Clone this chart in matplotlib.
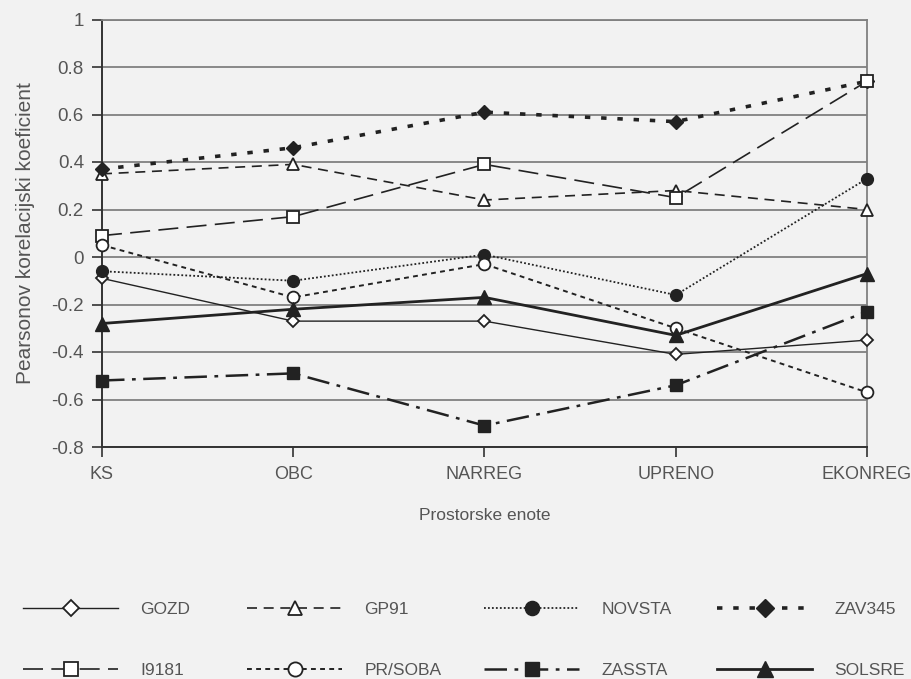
import matplotlib
matplotlib.use("Agg")
import matplotlib.pyplot as plt

categories = ["KS", "OBC", "NARREG", "UPRENO", "EKONREG"]
gozd    = [-0.09, -0.27, -0.27, -0.41, -0.35]
gp91    = [0.35, 0.39, 0.24, 0.28, 0.20]
novsta  = [-0.06, -0.10, 0.01, -0.16, 0.33]
zav345  = [0.37, 0.46, 0.61, 0.57, 0.74]
i9181   = [0.09, 0.17, 0.39, 0.25, 0.74]
prsoba  = [0.05, -0.17, -0.03, -0.30, -0.57]
zassta  = [-0.52, -0.49, -0.71, -0.54, -0.23]
solsre  = [-0.28, -0.22, -0.17, -0.33, -0.07]
yticks = [-0.8, -0.6, -0.4, -0.2, 0, 0.2, 0.4, 0.6, 0.8, 1]
ytick_labels = ["-0.8", "-0.6", "-0.4", "-0.2", "0", "0.2", "0.4", "0.6", "0.8", "1"]

plt.rcParams['font.family'] = ['Liberation Sans', 'DejaVu Sans']
bg = '#f2f2f2'
ink = '#222222'
txt = '#555555'

W, H = 912, 679
fig = plt.figure(figsize=(W / 100, H / 100), dpi=100, facecolor=bg)
ax = fig.add_axes([102 / W, 1 - 447 / H, (867 - 102) / W, (447 - 19.5) / H])
ax.set_facecolor(bg)
x = list(range(len(categories)))

series = [
    ("GOZD",    gozd,   dict(ls='-', lw=1.0, marker='D', ms=6.5, mfc='white', mec=ink, mew=1.3)),
    ("GP91",    gp91,   dict(ls=(0, (6, 4)), lw=1.2, marker='^', ms=8.5, mfc='white', mec=ink, mew=1.3)),
    ("NOVSTA",  novsta, dict(ls=(0, (1, 1.2)), lw=1.3, marker='o', ms=8.5, mfc=ink, mec=ink)),
    ("ZAV345",  zav345, dict(ls=(0, (1.5, 3.0)), lw=2.6, marker='D', ms=7.5, mfc=ink, mec=ink)),
    ("I9181",   i9181,  dict(ls=(0, (12, 5)), lw=1.2, marker='s', ms=8.5, mfc='white', mec=ink, mew=1.3)),
    ("PR/SOBA", prsoba, dict(ls=(0, (2.5, 2.2)), lw=1.4, marker='o', ms=8.5, mfc='white', mec=ink, mew=1.3)),
    ("ZASSTA",  zassta, dict(ls=(0, (9, 3, 1.5, 3)), lw=1.8, marker='s', ms=8.5, mfc=ink, mec=ink)),
    ("SOLSRE",  solsre, dict(ls='-', lw=2.0, marker='^', ms=9.5, mfc=ink, mec=ink)),
]
handles = []
for name, vals, kw in series:
    h, = ax.plot(x, vals, color=ink, label=name, clip_on=False, zorder=3, **kw)
    handles.append(h)

ax.set_xlim(0, len(categories) - 1)
ax.set_ylim(-0.8, 1.0)
ax.set_yticks(yticks)
ax.set_yticklabels(ytick_labels)
ax.set_xticks(x)
ax.set_xticklabels(categories)
ax.yaxis.grid(True, color='#808080', lw=1.3)
ax.set_axisbelow(True)
for s in ['top', 'right']:
    ax.spines[s].set_color('#808080')
    ax.spines[s].set_linewidth(1.3)
ax.spines['left'].set_color('#333333')
ax.spines['bottom'].set_color('#333333')
ax.spines['left'].set_linewidth(1.4)
ax.spines['bottom'].set_linewidth(1.4)
ax.tick_params(axis='both', direction='out', length=7, width=1.2, color='#333333', labelcolor=txt)
ax.tick_params(axis='y', labelsize=13.5, pad=6)
ax.tick_params(axis='x', labelsize=13, pad=7)
ax.set_xlabel("Prostorske enote", color=txt, fontsize=12.5, labelpad=18)
ax.set_ylabel("Pearsonov korelacijski koeficient", color=txt, fontsize=15, labelpad=12)

# legend: four columns of two entries each
col_x = [23, 247, 484, 717]
row_center = 640
fs = 12.5
for c in range(4):
    idx = [c, c + 4]
    leg = fig.legend([handles[i] for i in idx], [series[i][0] for i in idx],
                     loc='center left', bbox_to_anchor=(col_x[c] / W, 1 - row_center / H),
                     frameon=False, handlelength=5.5, handletextpad=1.25,
                     labelspacing=2.65, fontsize=fs, borderpad=0, borderaxespad=0,
                     markerscale=1.2)
    for t in leg.get_texts():
        t.set_color(txt)

fig.savefig("out.png", dpi=100, facecolor=bg)
